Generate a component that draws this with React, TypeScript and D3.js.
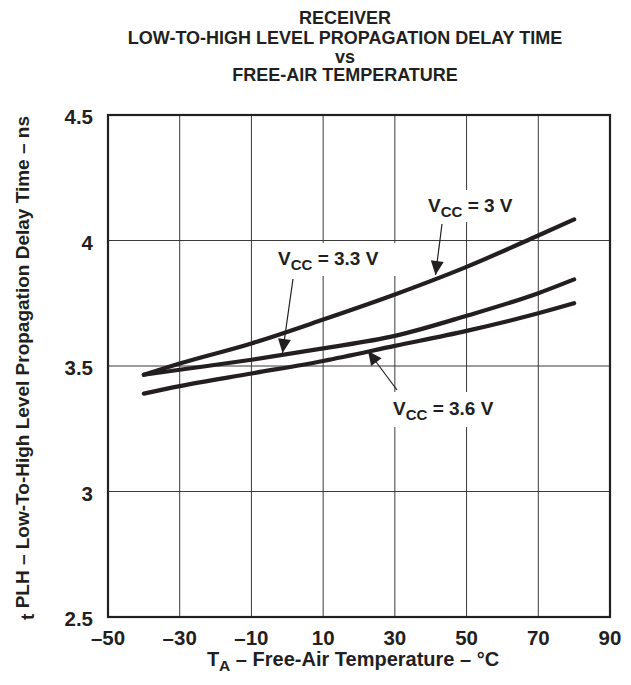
import React from "react";
import * as d3 from "d3";

// temperature (°C) where the curves were read
const temps = [-40, -30, -10, 10, 30, 50, 70, 80];
// propagation delay tPLH (ns)
const vcc3 = [3.465, 3.51, 3.59, 3.685, 3.785, 3.895, 4.02, 4.084];
const vcc33 = [3.465, 3.485, 3.525, 3.57, 3.62, 3.7, 3.79, 3.845];
const vcc36 = [3.39, 3.42, 3.47, 3.52, 3.58, 3.64, 3.71, 3.75];

const xTicks = [-50, -30, -10, 10, 30, 50, 70, 90];
const yTicks = [2.5, 3, 3.5, 4, 4.5];

const titleLines = [
  "RECEIVER",
  "LOW-TO-HIGH LEVEL PROPAGATION DELAY TIME",
  "vs",
  "FREE-AIR TEMPERATURE",
];

const W = 631;
const H = 685;
const margin = { top: 115, right: 21, bottom: 68, left: 108 };
const FONT = "'Liberation Sans', Arial, Helvetica, sans-serif";
const INK = "#231f20";

function App(): JSX.Element {
  const x = d3
    .scaleLinear()
    .domain([-50, 90])
    .range([margin.left, W - margin.right]);
  const y = d3
    .scaleLinear()
    .domain([2.5, 4.5])
    .range([H - margin.bottom, margin.top]);

  const line = d3
    .line<number>()
    .x((_, i) => x(temps[i]))
    .y((d) => y(d))
    .curve(d3.curveMonotoneX);

  const series = [vcc3, vcc33, vcc36];

  // callouts: white box that breaks the grid, text origin, arrow from -> tip
  const callouts = [
    {
      v: "3 V",
      tx: 428, ty: 212,
      box: [420, 190, 106, 32],
      from: [442, 224], to: [435.5, 275],
    },
    {
      v: "3.3 V",
      tx: 278, ty: 265,
      box: [272, 243, 126, 33],
      from: [293, 279], to: [282.5, 353],
    },
    {
      v: "3.6 V",
      tx: 393, ty: 415,
      box: [386, 392, 124, 35],
      from: [397, 390], to: [368, 351],
    },
  ];

  const arrowHead = (from: number[], to: number[]) => {
    const ang = Math.atan2(to[1] - from[1], to[0] - from[0]);
    const len = 14;
    const half = 6.5;
    const bx = to[0] - len * Math.cos(ang);
    const by = to[1] - len * Math.sin(ang);
    const px = -Math.sin(ang) * half;
    const py = Math.cos(ang) * half;
    return `M${to[0]},${to[1]}L${bx + px},${by + py}L${bx - px},${by - py}Z`;
  };

  return (
    <svg width={W} height={H} style={{ position: "absolute", left: 0, top: 0 }} fontFamily={FONT}>
      <rect width={W} height={H} fill="white" />
      {titleLines.map((t, i) => (
        <text
          key={t}
          x={345}
          y={[24, 44, 63, 81][i]}
          textAnchor="middle"
          fontWeight="bold"
          fontSize={18}
          fill={INK}
        >
          {t}
        </text>
      ))}

      {/* grid */}
      {xTicks.slice(1, -1).map((t) => (
        <line key={"gx" + t} x1={x(t)} x2={x(t)} y1={y(2.5)} y2={y(4.5)} stroke="#3a3a3a" strokeWidth={1} />
      ))}
      {yTicks.slice(1, -1).map((t) => (
        <line key={"gy" + t} x1={x(-50)} x2={x(90)} y1={y(t)} y2={y(t)} stroke="#3a3a3a" strokeWidth={1} />
      ))}

      {/* label boxes that break the grid */}
      {callouts.map((c) => (
        <rect key={"b" + c.v} x={c.box[0]} y={c.box[1]} width={c.box[2]} height={c.box[3]} fill="white" />
      ))}

      <rect
        x={x(-50)}
        y={y(4.5)}
        width={x(90) - x(-50)}
        height={y(2.5) - y(4.5)}
        fill="none"
        stroke={INK}
        strokeWidth={2.2}
      />

      {series.map((s, i) => (
        <path key={"s" + i} d={line(s) ?? ""} fill="none" stroke={INK} strokeWidth={4.2} strokeLinecap="round" />
      ))}

      {callouts.map((c) => (
        <g key={"c" + c.v} fill={INK}>
          <line x1={c.from[0]} y1={c.from[1]} x2={c.to[0]} y2={c.to[1]} stroke={INK} strokeWidth={1.2} />
          <path d={arrowHead(c.from, c.to)} />
          <text x={c.tx} y={c.ty} fontWeight="bold" fontSize={19}>
            V
            <tspan fontSize={15} dy={5}>CC</tspan>
            <tspan dy={-5}>{" = " + c.v}</tspan>
          </text>
        </g>
      ))}

      {/* tick labels */}
      {xTicks.map((t) => (
        <text key={"tx" + t} x={x(t)} y={y(2.5) + 28} textAnchor="middle" fontWeight="bold" fontSize={20.5} fill={INK}>
          {t < 0 ? "\u2013" + Math.abs(t) : t}
        </text>
      ))}
      {yTicks.map((t) => (
        <text key={"ty" + t} x={x(-50) - 15} y={y(t) + 9} textAnchor="end" fontWeight="bold" fontSize={20.5} fill={INK}>
          {t}
        </text>
      ))}

      {/* axis titles */}
      <text x={(x(-50) + x(90)) / 2 - 6} y={666} textAnchor="middle" fontWeight="bold" fontSize={20} fill={INK}>
        T<tspan fontSize={15.5} dy={5}>A</tspan>
        <tspan dy={-5}>{" \u2013 Free-Air Temperature \u2013 \u00b0C"}</tspan>
      </text>
      <text
        transform={`translate(29,${(y(2.5) + y(4.5)) / 2 + 2}) rotate(-90)`}
        textAnchor="middle"
        fontWeight="bold"
        fontSize={19}
        fill={INK}
      >
        <tspan dy={5}>t</tspan>
        <tspan dy={-5}>{" PLH \u2013 Low-To-High Level Propagation Delay Time \u2013 ns"}</tspan>
      </text>
    </svg>
  );
}

export default App;
